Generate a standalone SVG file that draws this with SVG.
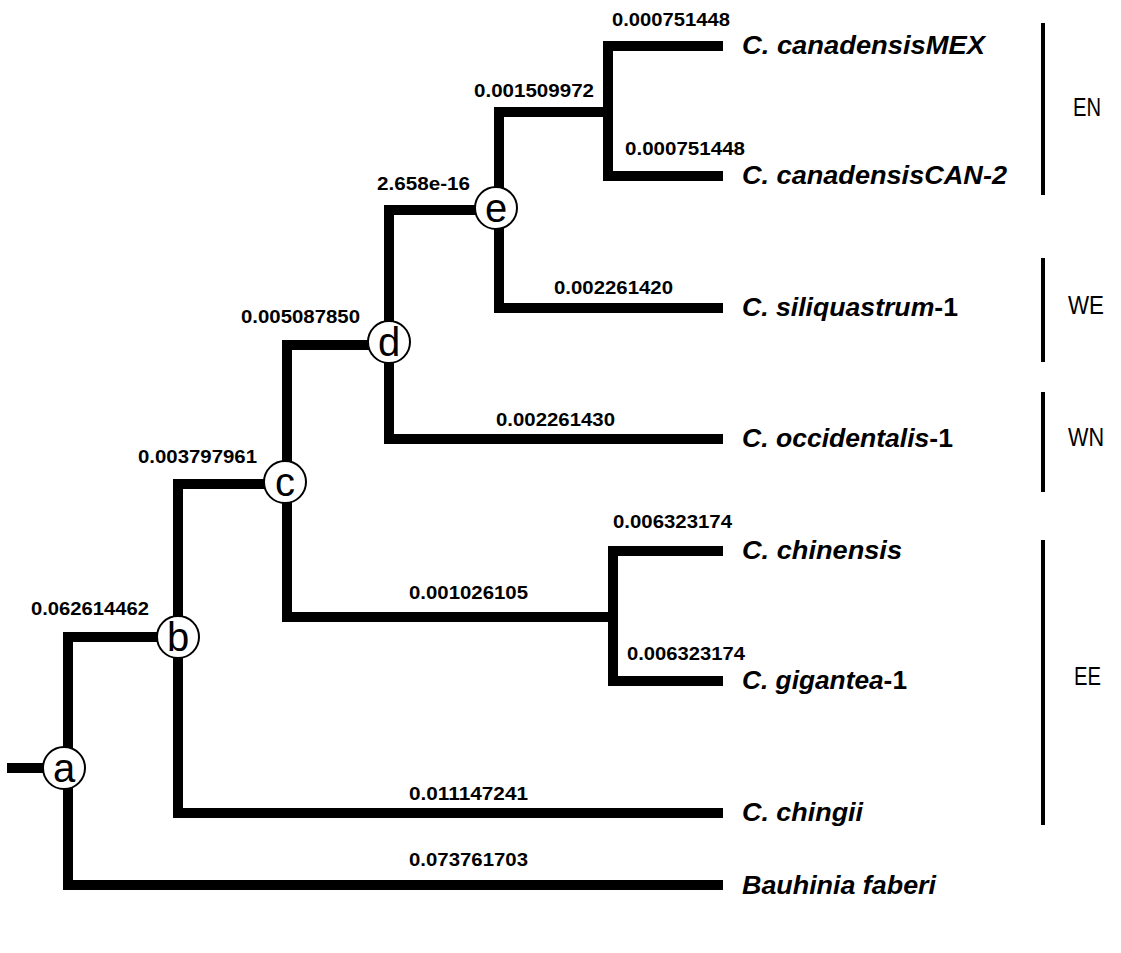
<svg xmlns="http://www.w3.org/2000/svg" width="1121" height="953" viewBox="0 0 1121 953">
<style>
.br{fill:none;stroke:#000;stroke-width:10;stroke-linejoin:miter;stroke-linecap:butt}
.bar{stroke:#000;stroke-width:4}
.node circle{fill:#fff;stroke:#000;stroke-width:2}
.nl{font-family:"Liberation Sans",Arial,sans-serif;font-size:40px;text-anchor:middle;fill:#000}
.num{font-family:"Liberation Sans",Arial,sans-serif;font-size:19px;font-weight:bold;fill:#000}
.sp{font-family:"Liberation Sans",Arial,sans-serif;font-size:26px;font-weight:bold;font-style:italic;fill:#000}
.up{font-style:normal}
.grp{font-family:"Liberation Sans",Arial,sans-serif;font-size:26px;fill:#000}
</style>
<rect width="1121" height="953" fill="#fff"/>
<g id="connectors">
<path class="br" d="M7,768 H64"/>
<path class="br" d="M723,885 H68 V637 H178"/>
<path class="br" d="M178,637 V813 H723"/>
<path class="br" d="M178,637 V484 H284"/>
<path class="br" d="M287,482 V617 H613"/>
<path class="br" d="M287,482 V345 H389"/>
<path class="br" d="M723,551 H613 V681 H723"/>
<path class="br" d="M389,342 V439 H723"/>
<path class="br" d="M389,342 V210 H497"/>
<path class="br" d="M499,208 V308 H723"/>
<path class="br" d="M499,208 V112 H608"/>
<path class="br" d="M723,46 H608 V176 H723"/>
</g>
<g id="branch-lengths">
<text class="num" x="612" y="26" textLength="118" lengthAdjust="spacingAndGlyphs">0.000751448</text>
<text class="num" x="474" y="97" textLength="120" lengthAdjust="spacingAndGlyphs">0.001509972</text>
<text class="num" x="625" y="155" textLength="120" lengthAdjust="spacingAndGlyphs">0.000751448</text>
<text class="num" x="377" y="190" textLength="93" lengthAdjust="spacingAndGlyphs">2.658e-16</text>
<text class="num" x="554" y="294" textLength="119" lengthAdjust="spacingAndGlyphs">0.002261420</text>
<text class="num" x="241" y="323" textLength="119" lengthAdjust="spacingAndGlyphs">0.005087850</text>
<text class="num" x="496" y="426" textLength="119" lengthAdjust="spacingAndGlyphs">0.002261430</text>
<text class="num" x="138" y="463" textLength="119" lengthAdjust="spacingAndGlyphs">0.003797961</text>
<text class="num" x="613" y="528" textLength="119" lengthAdjust="spacingAndGlyphs">0.006323174</text>
<text class="num" x="409" y="599" textLength="119" lengthAdjust="spacingAndGlyphs">0.001026105</text>
<text class="num" x="31" y="615" textLength="118" lengthAdjust="spacingAndGlyphs">0.062614462</text>
<text class="num" x="627" y="660" textLength="118" lengthAdjust="spacingAndGlyphs">0.006323174</text>
<text class="num" x="409" y="800" textLength="119" lengthAdjust="spacingAndGlyphs">0.011147241</text>
<text class="num" x="409" y="866" textLength="119" lengthAdjust="spacingAndGlyphs">0.073761703</text>
</g>
<g id="node-a" class="node"><circle cx="64" cy="768" r="21"/><text class="nl" x="64" y="782">a</text></g>
<g id="node-b" class="node"><circle cx="178" cy="637" r="21"/><text class="nl" x="178" y="651">b</text></g>
<g id="node-c" class="node"><circle cx="285" cy="482" r="21"/><text class="nl" x="285" y="496">c</text></g>
<g id="node-d" class="node"><circle cx="389" cy="342" r="21"/><text class="nl" x="389" y="356">d</text></g>
<g id="node-e" class="node"><circle cx="496" cy="208" r="21"/><text class="nl" x="496" y="222">e</text></g>
<g id="leaf-mex"><text class="sp" x="742" y="54" textLength="243" lengthAdjust="spacingAndGlyphs">C. canadensisMEX</text></g>
<g id="leaf-can2"><text class="sp" x="742" y="184" textLength="265" lengthAdjust="spacingAndGlyphs">C. canadensisCAN-2</text></g>
<g id="leaf-siliquastrum"><text class="sp" x="742" y="316" textLength="216" lengthAdjust="spacingAndGlyphs">C. siliquastrum<tspan class="up">-1</tspan></text></g>
<g id="leaf-occidentalis"><text class="sp" x="742" y="447" textLength="211" lengthAdjust="spacingAndGlyphs">C. occidentalis<tspan class="up">-1</tspan></text></g>
<g id="leaf-chinensis"><text class="sp" x="742" y="559" textLength="160" lengthAdjust="spacingAndGlyphs">C. chinensis</text></g>
<g id="leaf-gigantea"><text class="sp" x="742" y="689" textLength="165" lengthAdjust="spacingAndGlyphs">C. gigantea<tspan class="up">-1</tspan></text></g>
<g id="leaf-chingii"><text class="sp" x="742" y="821" textLength="121" lengthAdjust="spacingAndGlyphs">C. chingii</text></g>
<g id="leaf-bauhinia"><text class="sp" x="742" y="894" textLength="194" lengthAdjust="spacingAndGlyphs">Bauhinia faberi</text></g>
<g id="group-EN"><line class="bar" x1="1043" y1="23" x2="1043" y2="195"/><text class="grp" x="1073" y="116" textLength="28" lengthAdjust="spacingAndGlyphs">EN</text></g>
<g id="group-WE"><line class="bar" x1="1043" y1="258" x2="1043" y2="362"/><text class="grp" x="1068" y="314" textLength="36" lengthAdjust="spacingAndGlyphs">WE</text></g>
<g id="group-WN"><line class="bar" x1="1043" y1="392" x2="1043" y2="492"/><text class="grp" x="1068" y="446" textLength="36" lengthAdjust="spacingAndGlyphs">WN</text></g>
<g id="group-EE"><line class="bar" x1="1043" y1="540" x2="1043" y2="825"/><text class="grp" x="1074" y="685" textLength="27" lengthAdjust="spacingAndGlyphs">EE</text></g>
</svg>
